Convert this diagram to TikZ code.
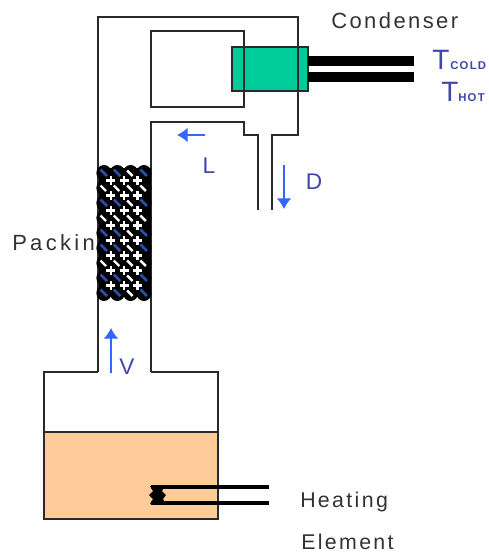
\documentclass[tikz,border=0pt]{standalone}
\usepackage{fontspec}
\setmainfont[LetterSpace=11]{Liberation Sans}
\definecolor{wall}{HTML}{2A2A2A}
\definecolor{greenc}{HTML}{00CC99}
\definecolor{liquid}{HTML}{FFCC99}
\definecolor{flow}{HTML}{3366FF}
\definecolor{lab}{HTML}{3F48A8}
\definecolor{ink}{HTML}{333333}
\definecolor{packblue}{HTML}{2A4FB0}
\usetikzlibrary{arrows.meta}
\tikzset{
  wallline/.style={draw=wall,line width=1.5pt},
  flowarrow/.style={draw=flow,line width=1pt,-{Latex[length=8pt,width=11pt]}},
  tag/.style={inner sep=0pt,text=ink,font=\fontsize{16}{18}\selectfont,anchor=west},
  flowtag/.style={inner sep=0pt,text=lab,font=\fontsize{17}{20}\selectfont},
  subtag/.style={inner sep=0pt,text=lab,font=\fontsize{8.5}{10}\bfseries\selectfont,anchor=base west},
  tube/.style={fill=black,draw=none},
  heatline/.style={draw=black,line width=2.6pt},
}
\begin{document}
\begin{tikzpicture}[x=0.75pt,y=-0.75pt]
\useasboundingbox (0,0) rectangle (489,554);
\fill[white] (0,0) rectangle (489,554);
% vessel
\fill[liquid] (44,432) rectangle (218,519);
\draw[wallline] (98,372) -- (44,372) -- (44,519) -- (218,519) -- (218,372) -- (151,372);
\draw[wallline] (44,432) -- (218,432);
% column
\draw[wallline] (98,372) -- (98,16.5) -- (298,16.5) -- (298,135) -- (272,135) -- (272,210);
\draw[wallline] (151,372) -- (151,122) -- (244,122) -- (244,135) -- (258,135) -- (258,210);
% condenser
\fill[greenc] (232,47) rectangle (308,91);
\draw[wallline] (151,31) rectangle (244,107);
\draw[wallline] (298,16.5) -- (298,135);
\draw[wallline] (232,47) rectangle (308,91);
\fill[tube] (308,56) rectangle (414,66);
\fill[tube] (308,72) rectangle (414,82);
% label behind packing
\node[tag,font=\fontsize{16.5}{19}\addfontfeature{LetterSpace=15}\selectfont] (packing) at (12,245) {Packing};
% packing
\fill[black] (99,168) rectangle (151,297);
\foreach \c in {0,1,2,3} \foreach \r in {0,...,8} {
  \pgfmathsetmacro{\px}{104+\c*13.3}
  \pgfmathsetmacro{\py}{173+\r*15}
  \fill[black] (\px,\py) ellipse (7.6 and 8);
}
\foreach \c in {0,1,2,3} \foreach \r in {0,...,8} {
  \pgfmathsetmacro{\px}{104+\c*13.3}
  \pgfmathsetmacro{\py}{173+\r*15}
  \pgfmathsetmacro{\blu}{(\r==0||\r==2||\r==4||\r==5||\r==7||\r==8)&&(\c!=2)?1:0}
  \ifdim\blu pt>0.5pt
    \draw[packblue,line width=2pt] (\px-3.5,\py-3.5) -- (\px+3,\py+3);
  \else
    \draw[white,line width=1.8pt] (\px-3.5,\py-2.5) -- (\px+2,\py+3);
  \fi
}
\foreach \c in {0,1,2} \foreach \r in {0,...,7} {
  \pgfmathsetmacro{\px}{110.7+\c*13.3}
  \pgfmathsetmacro{\py}{180.5+\r*15}
  \draw[white,line width=1.8pt] (\px-4.5,\py) -- (\px+4.5,\py) (\px,\py-4.5) -- (\px,\py+4.5);
}
% flow arrows
\coordinate (Lstart) at (205,135);
\coordinate (Lend) at (177,135);
\coordinate (Dstart) at (284,165);
\coordinate (Dend) at (284,209);
\coordinate (Vstart) at (111,373);
\coordinate (Vend) at (111,328);
\draw[flowarrow] (Lstart) -- (Lend);
\draw[flowarrow] (Dstart) -- (Dend);
\draw[flowarrow] (Vstart) -- (Vend);
% heating element
\coordinate (h1a) at (151,487);
\coordinate (h1b) at (269,487);
\coordinate (h2a) at (151,503);
\coordinate (h2b) at (269,503);
\draw[heatline] (h1a) -- (h1b);
\draw[heatline] (h2a) -- (h2b);
\fill[black] (150,486) -- (165,486) -- (162,491) -- (166,495) -- (163,499) -- (166,504) -- (150,504) -- (153,499) -- (149,495) -- (153,491) -- cycle;
% texts
\node[tag,font=\fontsize{16.5}{19}\selectfont] (cond) at (331,21) {Condenser};
\node[flowtag,anchor=base west,font=\fontsize{21}{24}\selectfont] (tc) at (432,69) {T};
\node[subtag] (tcs) at (450,69) {COLD};
\node[flowtag,anchor=base west,font=\fontsize{21}{24}\selectfont] (th) at (441,101) {T};
\node[subtag] (ths) at (458,101) {HOT};
\node[flowtag] (L) at (209,166) {L};
\node[flowtag] (D) at (314,182) {D};
\node[flowtag] (V) at (127,367) {V};
\node[tag] (heat) at (300,502) {Heating};
\node[tag] (elem) at (301,542) {Element};
\end{tikzpicture}
\end{document}
